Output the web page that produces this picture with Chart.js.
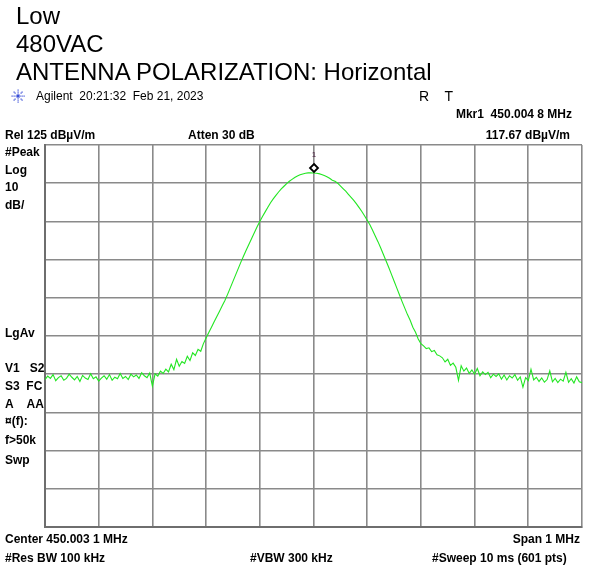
<!DOCTYPE html>
<html>
<head>
<meta charset="utf-8">
<title>Spectrum 450 MHz</title>
<script src="https://cdn.jsdelivr.net/npm/chart.js@4"></script>
<style>
  body { margin: 0; background: #fff; }
  #wrap { position: relative; width: 590px; height: 570px; overflow: hidden; font-family: "Liberation Sans", Arial, sans-serif; }
  #wrap canvas { position: absolute; left: 0; top: 0; }
  .t { position: absolute; white-space: nowrap; line-height: 14px; font-size: 12px; color: #000; }
  .b { font-weight: bold; }
  .big { font-size: 24px; line-height: 28px; }
  .r { text-align: right; }
</style>
</head>
<body>
<div id="wrap">
  <canvas id="spec" width="590" height="570"></canvas>

  <div class="t big" style="left:16px; top:2px;">Low</div>
  <div class="t big" style="left:16px; top:30px;">480VAC</div>
  <div class="t big" style="left:16px; top:58px;">ANTENNA POLARIZATION: Horizontal</div>

  <div class="t" style="left:36px; top:89px;">Agilent&nbsp; 20:21:32&nbsp; Feb 21, 2023</div>
  <div class="t" style="left:419px; top:88px; font-size:14px; line-height:16px;">R&nbsp;&nbsp;&nbsp; T</div>
  <div class="t b r" style="right:18px; top:107px;">Mkr1&nbsp; 450.004 8 MHz</div>

  <div class="t b" style="left:5px; top:128px;">Rel 125 dBµV/m</div>
  <div class="t b" style="left:188px; top:128px;">Atten 30 dB</div>
  <div class="t b r" style="right:20px; top:128px;">117.67 dBµV/m</div>

  <div class="t b" style="left:5px; top:145px;">#Peak</div>
  <div class="t b" style="left:5px; top:163px;">Log</div>
  <div class="t b" style="left:5px; top:180px;">10</div>
  <div class="t b" style="left:5px; top:198px;">dB/</div>
  <div class="t b" style="left:5px; top:326px;">LgAv</div>
  <div class="t b" style="left:5px; top:361px;">V1&nbsp;&nbsp; S2</div>
  <div class="t b" style="left:5px; top:379px;">S3&nbsp; FC</div>
  <div class="t b" style="left:5px; top:397px;">A&nbsp;&nbsp;&nbsp; AA</div>
  <div class="t b" style="left:5px; top:414px;">¤(f):</div>
  <div class="t b" style="left:5px; top:433px;">f&gt;50k</div>
  <div class="t b" style="left:5px; top:453px;">Swp</div>

  <div class="t b" style="left:5px; top:532px;">Center 450.003 1 MHz</div>
  <div class="t b r" style="right:10px; top:532px;">Span 1 MHz</div>
  <div class="t b" style="left:5px; top:551px;">#Res BW 100 kHz</div>
  <div class="t b" style="left:250px; top:551px;">#VBW 300 kHz</div>
  <div class="t b" style="left:432px; top:551px;">#Sweep 10 ms (601 pts)</div>
</div>

<script>
// sweep settings
const CENTER_MHZ = 450.0031;
const SPAN_MHZ = 1;
const STEP_MHZ = 0.005;          // one reading every 5 kHz across the span
const REF_LEVEL = 125;           // dBuV/m, top line
const DB_PER_DIV = 10;
const DIVS = 10;

// marker 1
const MARKER_MHZ = 450.0048;
const MARKER_DB = 117.67;

// trace level, dBuV/m, left to right (201 readings)
const LEVELS = [
  63.6, 64.5, 63.9, 64.9, 63.3, 64.1, 64.6, 63.4, 63.9, 65.0,
  64.2, 63.5, 64.4, 63.1, 64.7, 64.0, 63.6, 65.1, 63.8, 64.3,
  63.2, 64.0, 64.6, 63.7, 64.9, 63.4, 64.2, 63.8, 65.2, 63.9,
  64.4, 63.6, 65.0, 64.3, 64.8, 63.9, 65.4, 64.6, 64.1, 65.3,
  61.9, 65.1, 64.5, 65.8, 65.2, 66.3, 65.6, 67.6, 66.2, 68.9,
  67.1, 68.3, 67.8, 69.7, 68.6, 70.6, 69.9, 71.5, 71.0, 73.0,
  74.5, 75.9, 77.3, 78.7, 80.1, 81.5, 82.9, 84.3, 85.9, 87.6,
  89.3, 91.0, 92.7, 94.4, 96.0, 97.6, 99.1, 100.6, 102.1, 103.6,
  105.0, 106.3, 107.5, 108.7, 109.9, 110.9, 111.8, 112.7, 113.5, 114.2,
  114.9, 115.5, 116.0, 116.5, 116.9, 117.2, 117.4, 117.6, 117.7, 117.7,
  117.67, 117.6, 117.5, 117.3, 117.0, 116.7, 116.3, 115.8, 115.5, 115.0,
  114.3, 113.6, 112.9, 112.1, 111.3, 110.5, 109.6, 108.6, 107.6, 106.5,
  105.3, 104.1, 102.7, 101.2, 99.7, 98.1, 96.4, 94.7, 93.0, 91.2,
  89.4, 87.6, 85.8, 84.0, 82.3, 80.6, 79.1, 77.3, 76.0, 74.2,
  73.0, 72.4, 71.7, 71.9, 70.9, 71.2, 70.1, 69.8, 69.3, 68.2,
  68.9, 67.3, 67.9, 66.8, 63.4, 67.2, 65.8, 66.6, 65.2, 66.1,
  65.0, 66.5, 64.6, 65.6, 64.9, 65.5, 64.1, 65.0, 64.4, 65.1,
  63.7, 64.8, 63.5, 64.6, 64.0, 64.9, 63.4, 64.3, 61.6, 64.1,
  63.3, 66.3, 63.5, 64.2, 63.1, 64.0, 62.9, 63.6, 65.9, 63.0,
  63.9, 62.8, 63.7, 63.2, 65.5, 62.9, 63.8, 62.7, 64.3, 63.0,
  62.8
];

const START_MHZ = CENTER_MHZ - SPAN_MHZ / 2;
const STOP_MHZ = CENTER_MHZ + SPAN_MHZ / 2;
const BOTTOM_DB = REF_LEVEL - DB_PER_DIV * DIVS;

const trace = LEVELS.map((v, i) => ({ x: START_MHZ + i * STEP_MHZ, y: v }));

// graticule: ten equal divisions each way
function divTicks(lo, hi) {
  return scale => {
    scale.ticks = [];
    for (let k = 0; k <= DIVS; k++) scale.ticks.push({ value: lo + (hi - lo) * k / DIVS });
  };
}

const gridStyle = { color: '#8a8a8a', lineWidth: 1.6, drawTicks: false };
const borderStyle = { display: true, color: '#6e6e6e', width: 2 };

// marker diamond with its number, drawn just above the trace peak
const markerPlugin = {
  id: 'marker1',
  afterDatasetsDraw(chart) {
    const { ctx, scales: { x, y } } = chart;
    const px = Math.round(x.getPixelForValue(MARKER_MHZ));
    const py = Math.round(y.getPixelForValue(MARKER_DB)) - 5;
    ctx.save();
    ctx.beginPath();
    ctx.moveTo(px, py - 4);
    ctx.lineTo(px + 4, py);
    ctx.lineTo(px, py + 4);
    ctx.lineTo(px - 4, py);
    ctx.closePath();
    ctx.fillStyle = '#fff';
    ctx.fill();
    ctx.lineWidth = 1.8;
    ctx.strokeStyle = '#000';
    ctx.stroke();
    ctx.fillStyle = '#4a2040';
    ctx.font = '8px "Liberation Sans", Arial, sans-serif';
    ctx.textAlign = 'center';
    ctx.textBaseline = 'middle';
    ctx.fillText('1', px, py - 13);
    ctx.restore();
  }
};

// little starburst in front of the vendor name
const logoPlugin = {
  id: 'logo',
  afterDraw(chart) {
    const ctx = chart.ctx;
    const cx = 18, cy = 96;
    ctx.save();
    ctx.fillStyle = '#3a4fd8';
    for (let a = 0; a < 8; a++) {
      const ang = a * Math.PI / 4;
      for (let r = 2; r <= 6; r += 2) {
        ctx.fillRect(Math.round(cx + Math.cos(ang) * r) - 0.5, Math.round(cy + Math.sin(ang) * r) - 0.5, 1.2, 1.2);
      }
    }
    ctx.fillRect(cx - 1, cy - 1, 2, 2);
    ctx.restore();
  }
};

new Chart(document.getElementById('spec'), {
  type: 'line',
  data: {
    datasets: [{
      data: trace,
      borderColor: '#22e622',
      borderWidth: 1.1,
      pointRadius: 0,
      tension: 0
    }]
  },
  options: {
    responsive: false,
    animation: false,
    devicePixelRatio: 1,
    layout: { padding: { left: 45, right: 8, top: 145, bottom: 43 } },
    plugins: { legend: { display: false }, tooltip: { enabled: false } },
    scales: {
      x: {
        type: 'linear',
        min: START_MHZ,
        max: STOP_MHZ,
        afterBuildTicks: divTicks(START_MHZ, STOP_MHZ),
        ticks: { display: false },
        grid: gridStyle,
        border: borderStyle
      },
      y: {
        min: BOTTOM_DB,
        max: REF_LEVEL,
        afterBuildTicks: divTicks(BOTTOM_DB, REF_LEVEL),
        ticks: { display: false },
        grid: gridStyle,
        border: borderStyle
      }
    }
  },
  plugins: [markerPlugin, logoPlugin]
});
</script>
</body>
</html>
